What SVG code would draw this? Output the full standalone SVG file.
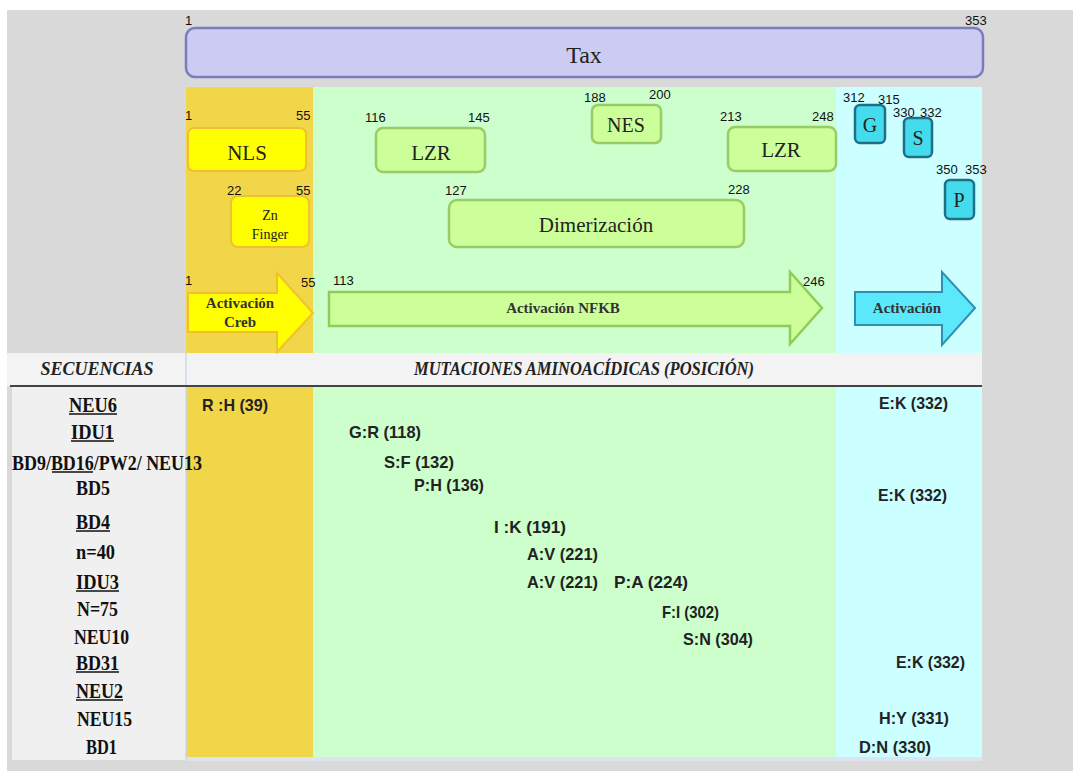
<svg xmlns="http://www.w3.org/2000/svg" width="1073" height="771" viewBox="0 0 1073 771">
<style>
.num{font-family:"Liberation Sans",Arial,sans-serif;font-size:13px;fill:#111}
.lbl{font-family:"Liberation Serif","Times New Roman",serif;fill:#222;text-anchor:middle}
.dom{font-size:21px}
.arr{font-family:"Liberation Serif","Times New Roman",serif;font-weight:bold;font-size:15px;fill:#333;text-anchor:middle}
.seq{font-family:"Liberation Serif","Times New Roman",serif;font-weight:bold;font-size:22px;fill:#111}
.mut{font-family:"Liberation Sans",Arial,sans-serif;font-weight:bold;font-size:17px;fill:#222}
.hdr{font-family:"Liberation Serif","Times New Roman",serif;font-weight:bold;font-style:italic;font-size:18px;fill:#222}
.yel{fill:#ffff00;stroke:#f0c030;stroke-width:2}
.grn{fill:#ccff99;stroke:#99cc66;stroke-width:2.5}
.cyn{fill:#44dcec;stroke:#1f6f88;stroke-width:2.5}
.ul{stroke:#111;stroke-width:1.5}
</style>
<rect x="0" y="0" width="1073" height="771" fill="#ffffff"/>
<rect x="7" y="10" width="1066" height="761" fill="#d9d9d9"/>
<g id="columns">
<rect x="186" y="87" width="127" height="671" fill="#f2d64a"/>
<rect x="313" y="87" width="523" height="671" fill="#ccffcc"/>
<rect x="836" y="87" width="146" height="671" fill="#ccffff"/>
<rect x="186" y="757" width="796" height="4" fill="#dde3ef"/>
</g>
<g id="table-frame">
<rect x="7" y="353" width="975" height="33" fill="#f3f3f3"/>
<rect x="12" y="386" width="174" height="374" fill="#f0f0f0"/>
<line x1="186" y1="353" x2="186" y2="760" stroke="#c9d8ea" stroke-width="1.5"/>
<line x1="10" y1="386" x2="982" y2="386" stroke="#444" stroke-width="2"/>
<text class="hdr" x="97" y="375" text-anchor="middle">SECUENCIAS</text>
<text class="hdr" x="414" y="375" textLength="340" lengthAdjust="spacingAndGlyphs">MUTACIONES AMINOACÍDICAS (POSICIÓN)</text>
</g>
<g id="tax">
<rect x="186" y="28" width="797" height="49" rx="9" fill="#ccccf2" stroke="#7b7bbd" stroke-width="2.5"/>
<text class="lbl" x="584" y="63" font-size="24">Tax</text>
<text class="num" x="185" y="25">1</text>
<text class="num" x="965" y="25">353</text>
</g>
<g id="nls">
<rect x="188" y="128" width="118" height="43" rx="6" class="yel"/>
<text class="lbl dom" x="247" y="160">NLS</text>
<text class="num" x="185" y="120">1</text>
<text class="num" x="296" y="120">55</text>
</g>
<g id="znfinger">
<rect x="231" y="196" width="78" height="51" rx="7" class="yel"/>
<text class="lbl" x="270" y="220" font-size="14">Zn</text>
<text class="lbl" x="270" y="239" font-size="14">Finger</text>
<text class="num" x="227" y="195">22</text>
<text class="num" x="296" y="195">55</text>
</g>
<g id="lzr1">
<rect x="376" y="128" width="109" height="44" rx="7" class="grn"/>
<text class="lbl dom" x="431" y="160">LZR</text>
<text class="num" x="365" y="122">116</text>
<text class="num" x="468" y="122">145</text>
</g>
<g id="nes">
<rect x="592" y="105" width="69" height="38" rx="6" class="grn"/>
<text class="lbl" x="626" y="132" font-size="20">NES</text>
<text class="num" x="584" y="102">188</text>
<text class="num" x="649" y="99">200</text>
</g>
<g id="lzr2">
<rect x="728" y="127" width="108" height="44" rx="7" class="grn"/>
<text class="lbl dom" x="781" y="157">LZR</text>
<text class="num" x="720" y="121">213</text>
<text class="num" x="812" y="121">248</text>
</g>
<g id="dimerizacion">
<rect x="449" y="200" width="295" height="47" rx="8" class="grn"/>
<text class="lbl dom" x="596" y="232">Dimerización</text>
<text class="num" x="445" y="195">127</text>
<text class="num" x="728" y="194">228</text>
</g>
<g id="g-box">
<rect x="855" y="105" width="30" height="38" rx="5" class="cyn"/>
<text class="lbl" x="870" y="132" font-size="20">G</text>
<text class="num" x="843" y="102">312</text>
<text class="num" x="878" y="104">315</text>
</g>
<g id="s-box">
<rect x="904" y="118" width="28" height="39" rx="5" class="cyn"/>
<text class="lbl" x="918" y="145" font-size="20">S</text>
<text class="num" x="893" y="117">330</text>
<text class="num" x="920" y="117">332</text>
</g>
<g id="p-box">
<rect x="945" y="180" width="29" height="39" rx="5" class="cyn"/>
<text class="lbl" x="959" y="207" font-size="20">P</text>
<text class="num" x="936" y="174">350</text>
<text class="num" x="965" y="174">353</text>
</g>
<g id="activacion-creb">
<polygon points="188,293 277,293 277,273 313,313 277,352 277,332 188,332" fill="#ffff00" stroke="#f0c030" stroke-width="2"/>
<text class="arr" x="240" y="308" font-size="14.5">Activación</text>
<text class="arr" x="240" y="327" font-size="14.5">Creb</text>
<text class="num" x="185" y="285">1</text>
<text class="num" x="301" y="287">55</text>
</g>
<g id="activacion-nfkb">
<polygon points="329,292 790,292 790,272 822,308 790,344 790,326 329,326" fill="#ccff99" stroke="#8fcc5a" stroke-width="2.5"/>
<text class="arr" x="563" y="313">Activación NFKB</text>
<text class="num" x="333" y="285">113</text>
<text class="num" x="803" y="286">246</text>
</g>
<g id="activacion">
<polygon points="855,292 942,292 942,272 975,308 942,345 942,325 855,325" fill="#5ae8fa" stroke="#2e8fb0" stroke-width="2"/>
<text class="arr" x="907" y="313" font-size="13.5">Activación</text>
</g>
<g id="sequences">
<text class="seq" x="69" y="412" textLength="48" lengthAdjust="spacingAndGlyphs">NEU6</text>
<line class="ul" x1="69" y1="414" x2="117" y2="414"/>
<text class="seq" x="71" y="439" textLength="43" lengthAdjust="spacingAndGlyphs">IDU1</text>
<line class="ul" x1="71" y1="441" x2="114" y2="441"/>
<text class="seq" x="12" y="470" textLength="190" lengthAdjust="spacingAndGlyphs">BD9/BD16/PW2/ NEU13</text>
<line class="ul" x1="52" y1="472" x2="93" y2="472"/>
<text class="seq" x="76" y="495" textLength="34" lengthAdjust="spacingAndGlyphs">BD5</text>
<text class="seq" x="76" y="529" textLength="34" lengthAdjust="spacingAndGlyphs">BD4</text>
<line class="ul" x1="76" y1="531" x2="110" y2="531"/>
<text class="seq" x="76" y="559" textLength="39" lengthAdjust="spacingAndGlyphs">n=40</text>
<text class="seq" x="76" y="589" textLength="43" lengthAdjust="spacingAndGlyphs">IDU3</text>
<line class="ul" x1="76" y1="591" x2="119" y2="591"/>
<text class="seq" x="77" y="616" textLength="41" lengthAdjust="spacingAndGlyphs">N=75</text>
<text class="seq" x="74" y="644" textLength="55" lengthAdjust="spacingAndGlyphs">NEU10</text>
<text class="seq" x="76" y="670" textLength="43" lengthAdjust="spacingAndGlyphs">BD31</text>
<line class="ul" x1="76" y1="672" x2="119" y2="672"/>
<text class="seq" x="76" y="698" textLength="47" lengthAdjust="spacingAndGlyphs">NEU2</text>
<line class="ul" x1="76" y1="700" x2="123" y2="700"/>
<text class="seq" x="77" y="726" textLength="55" lengthAdjust="spacingAndGlyphs">NEU15</text>
<text class="seq" x="86" y="754" textLength="31" lengthAdjust="spacingAndGlyphs">BD1</text>
</g>
<g id="mutations">
<text class="mut" x="202" y="411" textLength="66" lengthAdjust="spacingAndGlyphs">R :H (39)</text>
<text class="mut" x="349" y="438" textLength="72" lengthAdjust="spacingAndGlyphs">G:R (118)</text>
<text class="mut" x="384" y="468" textLength="70" lengthAdjust="spacingAndGlyphs">S:F (132)</text>
<text class="mut" x="414" y="491" textLength="70" lengthAdjust="spacingAndGlyphs">P:H (136)</text>
<text class="mut" x="494" y="533" textLength="72" lengthAdjust="spacingAndGlyphs">I :K (191)</text>
<text class="mut" x="527" y="560" textLength="71" lengthAdjust="spacingAndGlyphs">A:V (221)</text>
<text class="mut" x="527" y="588" textLength="71" lengthAdjust="spacingAndGlyphs">A:V (221)</text>
<text class="mut" x="614" y="588" textLength="74" lengthAdjust="spacingAndGlyphs">P:A (224)</text>
<text class="mut" x="662" y="618" textLength="57" lengthAdjust="spacingAndGlyphs">F:I (302)</text>
<text class="mut" x="683" y="645" textLength="70" lengthAdjust="spacingAndGlyphs">S:N (304)</text>
<text class="mut" x="879" y="409" textLength="69" lengthAdjust="spacingAndGlyphs">E:K (332)</text>
<text class="mut" x="878" y="501" textLength="69" lengthAdjust="spacingAndGlyphs">E:K (332)</text>
<text class="mut" x="896" y="668" textLength="69" lengthAdjust="spacingAndGlyphs">E:K (332)</text>
<text class="mut" x="879" y="724" textLength="70" lengthAdjust="spacingAndGlyphs">H:Y (331)</text>
<text class="mut" x="859" y="753" textLength="72" lengthAdjust="spacingAndGlyphs">D:N (330)</text>
</g>
<g id="connectors"></g>
</svg>
